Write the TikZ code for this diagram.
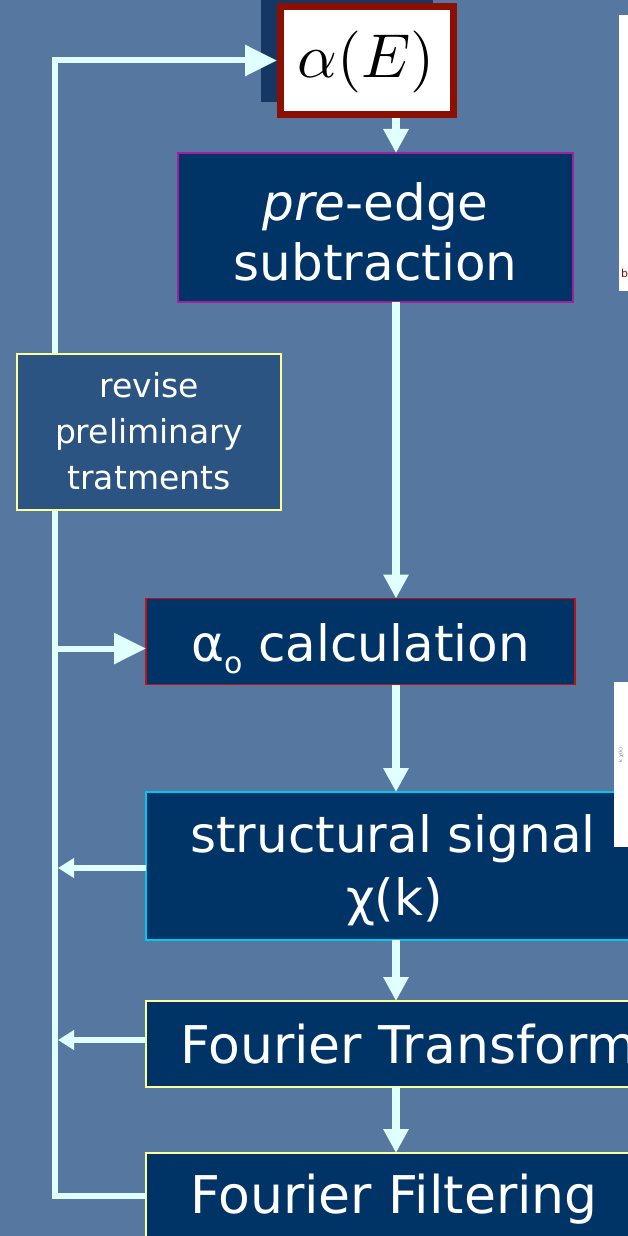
\documentclass[tikz,border=0pt]{standalone}
\usepackage[no-math]{fontspec}
\newfontfamily\comic{DejaVu Sans}
\usetikzlibrary{arrows.meta}
\definecolor{bgblue}{RGB}{86,120,160}
\definecolor{navy}{RGB}{0,51,102}
\definecolor{revblue}{RGB}{43,84,130}
\definecolor{arrowcyan}{RGB}{224,255,255}
\definecolor{framered}{RGB}{139,16,0}
\definecolor{preborder}{RGB}{160,32,160}
\definecolor{calcborder}{RGB}{192,16,16}
\definecolor{structborder}{RGB}{0,200,240}
\definecolor{paleyellow}{RGB}{255,255,153}
\definecolor{darknavy}{RGB}{20,55,100}
\tikzset{
  box/.style={rectangle, draw, fill=navy, line width=1.6pt, inner sep=0pt, outer sep=0pt},
  lbl/.style={text=white, inner sep=0pt, anchor=base},
  big/.style={font=\comic\fontsize{50}{60}\selectfont},
  bigger/.style={font=\comic\fontsize{52}{60}\selectfont},
  small/.style={font=\comic\fontsize{33}{40}\selectfont},
  vflow/.style={draw=arrowcyan, line width=8pt, -{Triangle[length=24pt,width=24pt]}},
  loopline/.style={draw=arrowcyan, line width=6pt},
  bigin/.style={loopline, -{Triangle[length=32pt,width=30pt]}},
  smallout/.style={loopline, -{Triangle[length=16pt,width=19pt]}, shorten >=3pt},
}
\begin{document}
\begin{tikzpicture}[x=1pt,y=-1pt]
\useasboundingbox (0,0) rectangle (628,1236);
\clip (0,0) rectangle (628,1236);
\fill[bgblue] (0,0) rectangle (628,1236);
\fill[darknavy] (261,0) rectangle (433,102);

% boxes
\node[box, draw=framered, fill=white, line width=7pt, outer sep=3.5pt,
      minimum width=173pt, minimum height=108pt] (alphaE) at (367,60.5) {};
\node[box, draw=preborder, minimum width=395pt, minimum height=149pt] (pre) at (375.5,227.5) {};
\node[box, draw=calcborder, minimum width=429pt, minimum height=86pt] (calc) at (360.5,641.5) {};
\node[box, draw=structborder, minimum width=496pt, minimum height=148pt] (struct) at (394,866) {};
\node[box, draw=paleyellow, minimum width=554pt, minimum height=86pt] (ft) at (423,1044) {};
\node[box, draw=paleyellow, minimum width=496pt, minimum height=127pt] (ff) at (394,1216.5) {};

% helper coordinates
\coordinate (cx) at (396,0);
\coordinate (lx) at (55,0);
\coordinate (yff) at (0,1196);
\coordinate (ycalc) at (0,648.5);
\coordinate (ystruct) at (0,868);
\coordinate (yft) at (0,1040);

% feedback loop
\draw[bigin] (ff.west |- yff) -- (lx |- yff) -- (lx |- alphaE.west) -- (alphaE.west);
\draw[bigin] (lx |- ycalc) -- (calc.west |- ycalc);
\draw[smallout] (struct.west |- ystruct) -- (lx |- ystruct);
\draw[smallout] (ft.west |- yft) -- (lx |- yft);

\node[box, fill=revblue, draw=paleyellow, minimum width=264pt, minimum height=156pt] (rev) at (149,432) {};

% main flow
\draw[vflow] (alphaE.south -| cx) -- (pre.north -| cx);
\draw[vflow] (pre.south -| cx) -- (calc.north -| cx);
\draw[vflow] (calc.south -| cx) -- (struct.north -| cx);
\draw[vflow] (struct.south -| cx) -- (ft.north -| cx);
\draw[vflow] (ft.south -| cx) -- (ff.north -| cx);

% partial figures at right edge
\fill[white] (619,15) rectangle (640,291);
\fill[white] (614,682) rectangle (640,847);
\node[font=\comic\fontsize{11}{11}\selectfont, text=framered, anchor=base west, inner sep=0pt] (tb) at (621,277) {b};
\node[rotate=90, font=\comic\fontsize{5}{5}\selectfont, text=gray, inner sep=0pt] (tkchi) at (621,755) {k χ(k)};

% texts
\node[inner sep=0pt] (tae) at (366,62) {\scalebox{6.2}{$\alpha(E)$}};
\node[lbl, big] (tpre) at (375.5,220) {\textit{pre}-edge};
\node[lbl, big] (tsub) at (375.5,280) {subtraction};
\node[lbl, small] (trev1) at (149,397) {revise};
\node[lbl, small] (trev2) at (149,443) {preliminary};
\node[lbl, small] (trev3) at (149,489) {tratments};
\node[lbl, big] (tcalc) at (360.5,661) {α\raisebox{-12pt}{\fontsize{30}{30}\selectfont o} calculation};
\node[lbl, big] (tstruct) at (393,852) {structural signal};
\node[lbl, big] (tchi) at (394.5,915) {χ(k)};
\node[lbl, bigger, anchor=base west] (tft) at (180,1063) {Fourier Transform};
\node[lbl, bigger] (tff) at (394,1213) {Fourier Filtering};
\end{tikzpicture}
\end{document}
